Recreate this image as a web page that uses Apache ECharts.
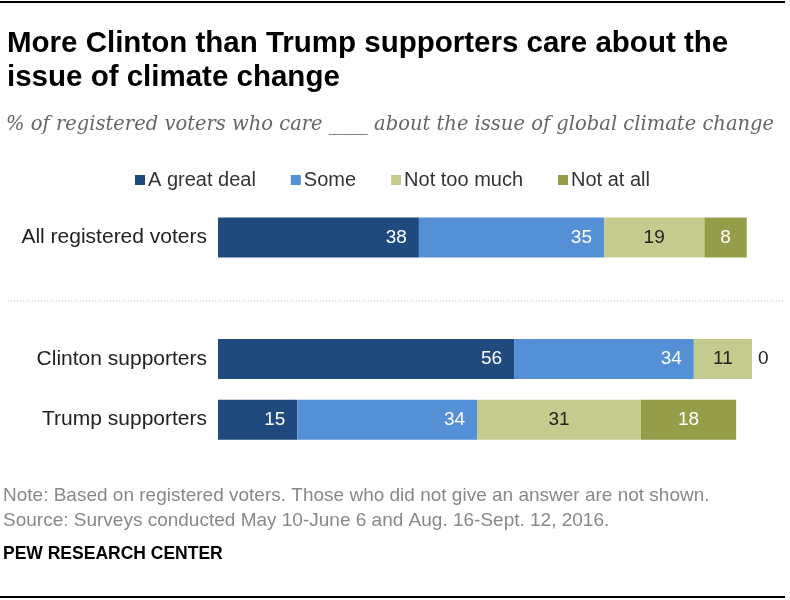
<!DOCTYPE HTML>
<html>
<head>
<meta charset="utf-8">
<title>Climate change concern by candidate support</title>
<script src="https://cdn.jsdelivr.net/npm/echarts@6/dist/echarts.min.js"></script>
<style>
    body { margin: 0; padding: 0; background: #fff; }
    #chart { width: 790px; height: 600px; }
</style>
</head>
<body>
<div id="chart"></div>
<script type="text/javascript">
// rows, top to bottom; the empty row holds the dotted separator
var groups = ['All registered voters', '', 'Clinton supporters', 'Trump supporters'];
var answers = ['A great deal', 'Some', 'Not too much', 'Not at all'];
var greatDeal = [38, null, 56, 15];
var some = [35, null, 34, 34];
var notTooMuch = [19, null, 11, 31];
var notAtAll = [8, null, 0, 18];

var colors = ['#204a7d', '#558fd5', '#c5cb8e', '#959d48'];
var labelColors = ['#fff', '#fff', '#222', '#fff'];
var labelPos = ['insideRight', 'insideRight', 'inside', 'inside'];
var seriesData = [greatDeal, some, notTooMuch, notAtAll];

var font = '"Liberation Sans", sans-serif';

var series = answers.map(function (name, i) {
    return {
        name: name,
        type: 'bar',
        stack: 'total',
        barWidth: 40,
        itemStyle: { color: colors[i] },
        label: {
            show: true,
            position: labelPos[i],
            distance: 12,
            color: labelColors[i],
            fontFamily: font,
            fontSize: 19,
            formatter: function (p) { return p.value === 0 ? '0' : p.value; }
        },
        data: seriesData[i].map(function (v) {
            // a zero share still gets its number, just outside the bar
            if (v === 0) {
                return { value: 0, label: { position: 'right', distance: 6, color: '#222' } };
            }
            return v;
        })
    };
});

var chart = echarts.init(document.getElementById('chart'));
chart.setOption({
    animation: false,
    textStyle: { fontFamily: font },
    title: [{
        text: 'More Clinton than Trump supporters care about the\nissue of climate change',
        left: 7, top: 27, padding: 0,
        textStyle: { fontSize: 29.5, fontWeight: 'bold', color: '#000', lineHeight: 34, fontFamily: font }
    }, {
        text: '% of registered voters who care ____ about the issue of global climate change',
        left: 6, top: 115, padding: 0,
        textStyle: { fontSize: 19.5, fontStyle: 'italic', fontWeight: 'normal', color: '#666', fontFamily: '"DejaVu Serif", "Liberation Serif", serif' }
    }, {
        text: 'Note: Based on registered voters. Those who did not give an answer are not shown.\nSource: Surveys conducted May 10-June 6 and Aug. 16-Sept. 12, 2016.',
        left: 3, top: 483, padding: 0,
        textStyle: { fontSize: 19, fontWeight: 'normal', color: '#888', lineHeight: 25, fontFamily: font }
    }, {
        text: 'PEW RESEARCH CENTER',
        left: 3, top: 545, padding: 0,
        textStyle: { fontSize: 17.5, fontWeight: 'bold', color: '#000', fontFamily: font }
    }],
    legend: {
        data: answers,
        left: 135, top: 170, padding: 0,
        icon: 'rect',
        itemWidth: 10, itemHeight: 10,
        itemGap: 35,
        textStyle: { fontSize: 20, color: '#333', padding: [0, 0, 0, -2] }
    },
    grid: { left: 218, right: 38, top: 207, height: 243 },
    xAxis: { type: 'value', min: 0, max: 101, show: false },
    yAxis: {
        type: 'category',
        inverse: true,
        data: groups,
        axisLine: { show: false },
        axisTick: { show: false },
        axisLabel: { margin: 11, fontSize: 21, color: '#222' }
    },
    graphic: [{
        type: 'line', shape: { x1: 0, y1: 2, x2: 785, y2: 2 },
        style: { stroke: '#000', lineWidth: 2 }
    }, {
        type: 'line', shape: { x1: 8, y1: 301, x2: 785, y2: 301 },
        style: { stroke: '#bbb', lineWidth: 1, lineDash: [1, 2] }
    }, {
        type: 'line', shape: { x1: 0, y1: 597, x2: 785, y2: 597 },
        style: { stroke: '#000', lineWidth: 2 }
    }],
    series: series
});
</script>
</body>
</html>
